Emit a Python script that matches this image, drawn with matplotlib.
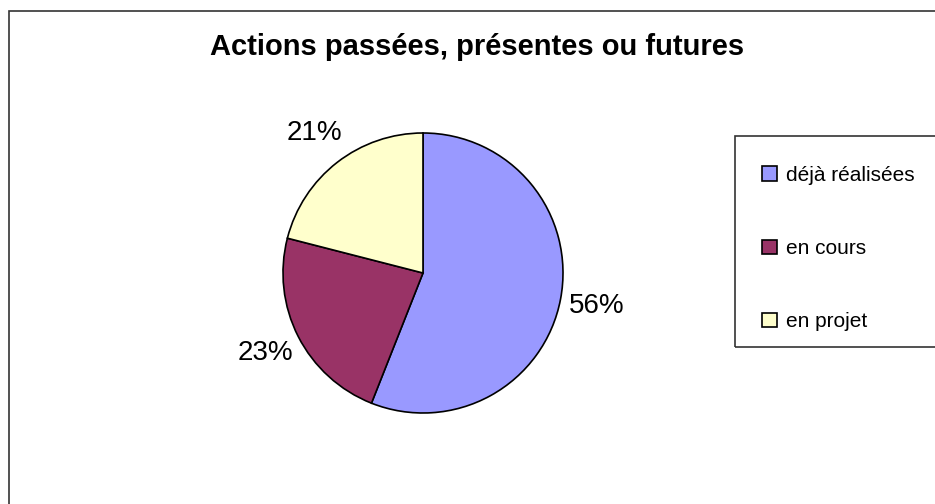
import matplotlib.pyplot as plt
from matplotlib.patches import Rectangle, Patch

plt.rcParams['font.family'] = ['Liberation Sans', 'DejaVu Sans']

title = "Actions passées, présentes ou futures"
categories = ["déjà réalisées", "en cours", "en projet"]
values = [56, 23, 21]
colors = ["#9999FF", "#993366", "#FFFFCC"]

W, H = 935, 504
fig = plt.figure(figsize=(W / 100, H / 100), dpi=100)

# outer chart frame (runs off the right and bottom edges)
fig.patches.append(Rectangle((9 / W, -0.1), 1.2, (H - 11) / H + 0.1, transform=fig.transFigure,
                             fill=False, edgecolor="#333333", linewidth=1.2))

fig.text(477 / W, 1 - 55 / H, title, ha="center", va="baseline", fontsize=21, fontweight="bold")

# pie: centre (423, 273) px, radius 140 px
ax = fig.add_axes([283 / W, 1 - 413 / H, 280 / W, 280 / H])
wedges, _, autotexts = ax.pie(values, colors=colors, startangle=90, counterclock=False,
                              autopct="%1.0f%%", pctdistance=1.265,
                              wedgeprops=dict(edgecolor="black", linewidth=1.2),
                              textprops=dict(fontsize=20))
ax.set_xlim(-1, 1)
ax.set_ylim(-1, 1)
ax.axis("off")

# legend box
fig.patches.append(Rectangle((735 / W, 1 - 347 / H), 0.5, (347 - 136) / H, transform=fig.transFigure,
                             fill=False, edgecolor="#333333", linewidth=1.2))
handles = [Patch(facecolor=c, edgecolor="black", linewidth=1.2) for c in colors]
fig.legend(handles, categories, loc="upper left", bbox_to_anchor=(762 / W, 1 - 166 / H),
           frameon=False, fontsize=15, handlelength=0.7, handleheight=0.7,
           handletextpad=0.45, labelspacing=2.6, borderaxespad=0, borderpad=0)

fig.savefig("out.png", dpi=100)
